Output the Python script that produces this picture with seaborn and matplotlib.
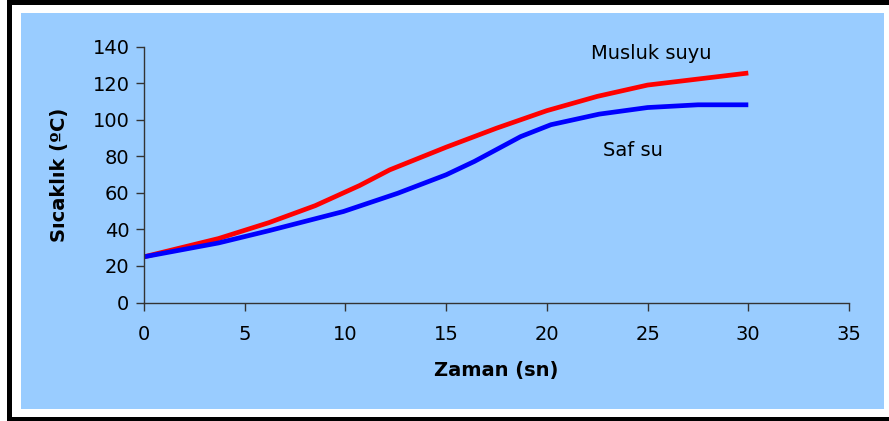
import matplotlib
matplotlib.use("Agg")
import matplotlib.pyplot as plt
from matplotlib.patches import Rectangle
import seaborn as sns
import pandas as pd

# Data
tap_x = [0, 3.7, 6.2, 8.5, 10.7, 12.2, 15, 17.5, 20, 22.5, 25, 27.5, 30]
tap_y = [25, 35, 43.7, 53, 64, 72.6, 85, 95.4, 105, 112.8, 119, 122.3, 125.6]
pure_x = [0, 3.7, 6.2, 9.9, 12.6, 15, 16.4, 18.7, 20.2, 22.6, 25, 27.5, 30]
pure_y = [25, 32.6, 39.3, 49.8, 59.8, 69.9, 77.2, 90.8, 97.3, 103.1, 106.7, 108.2, 108.2]
x_ticks = [0, 5, 10, 15, 20, 25, 30, 35]
y_ticks = [0, 20, 40, 60, 80, 100, 120, 140]
series_names = ["Musluk suyu", "Saf su"]
x_label = "Zaman (sn)"
y_label = "Sıcaklık (ºC)"

df = pd.concat([
    pd.DataFrame({"x": tap_x, "y": tap_y, "s": series_names[0]}),
    pd.DataFrame({"x": pure_x, "y": pure_y, "s": series_names[1]}),
])

sns.set_theme(style="white")
plt.rcParams["font.family"] = ["DejaVu Sans"]

W, H = 889, 421
fig = plt.figure(figsize=(W / 100, H / 100), dpi=100, facecolor="white")

def frect(x0, y0, x1, y1, color, z):
    fig.patches.append(Rectangle((x0 / W, 1 - y1 / H), (x1 - x0) / W, (y1 - y0) / H,
                                 transform=fig.transFigure, facecolor=color,
                                 edgecolor="none", zorder=z))

frect(7, 0, 900, 430, "black", 0)
frect(12, 4.5, 900, 416.5, "white", 1)
frect(21, 13, 883.5, 408.5, "#99CCFF", 2)

ax = fig.add_axes([144 / W, 1 - 302.5 / H, (849 - 144) / W, (302.5 - 46.7) / H])
ax.set_facecolor("#99CCFF")
ax.set_zorder(5)

sns.lineplot(data=df, x="x", y="y", hue="s", palette=["#FF0000", "#0000FF"],
             linewidth=3.4, sort=False, legend=False, ax=ax)
for ln in ax.get_lines():
    ln.set_solid_joinstyle("round")
    ln.set_solid_capstyle("butt")

ax.set_xlim(0, 35)
ax.set_ylim(0, 140)
ax.set_xticks(x_ticks)
ax.set_yticks(y_ticks)
ax.tick_params(axis="both", which="both", direction="out", length=5.5, width=1,
               color="#333333", labelsize=14, labelcolor="black", pad=5,
               bottom=True, left=True)
ax.tick_params(axis="x", pad=11)
for s in ["top", "right"]:
    ax.spines[s].set_visible(False)
for s in ["left", "bottom"]:
    ax.spines[s].set_color("#333333")
    ax.spines[s].set_linewidth(1)

ax.set_xlabel(x_label, fontsize=14, fontweight="bold", labelpad=12, color="black")
ax.set_ylabel(y_label, fontsize=14, fontweight="bold", labelpad=17, color="black")

ax.text(22.2, 136.5, series_names[0], fontsize=14, color="black", va="center", ha="left")
ax.text(22.8, 83, series_names[1], fontsize=14, color="black", va="center", ha="left")

fig.savefig("out.png", dpi=100, facecolor="white")
